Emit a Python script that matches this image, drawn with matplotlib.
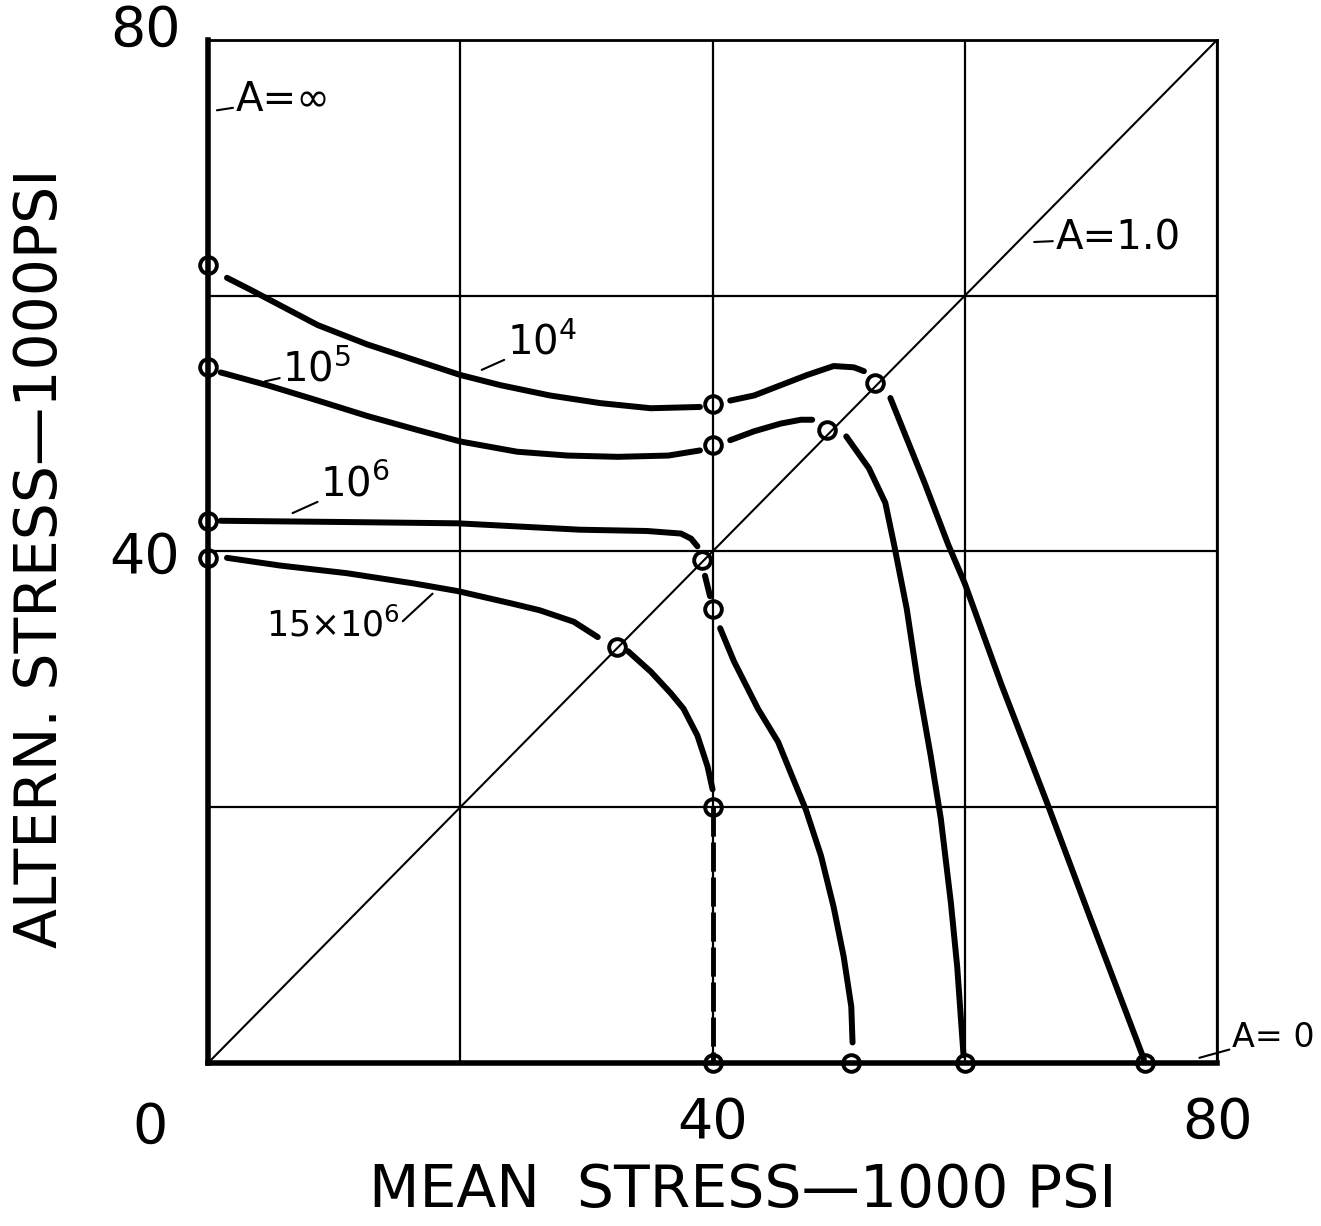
import matplotlib
matplotlib.use("Agg")
import matplotlib.pyplot as plt
from matplotlib.transforms import ScaledTranslation

plt.rcParams['font.family'] = ['DejaVu Sans']
plt.rcParams['mathtext.default'] = 'regular'

# curves (mean stress, alternating stress), 1000 psi
# N = 10^4
x_1e4 = [1.5, 3.3, 6.0, 8.7, 12.6, 16.6, 20.0, 23.2, 27.1, 31.1, 35.1, 39.0]
y_1e4 = [61.4, 60.5, 59.1, 57.7, 56.2, 54.9, 53.8, 53.0, 52.2, 51.6, 51.2, 51.3]
x_1e4b = [41.4, 43.3, 45.4, 47.5, 49.6, 51.2, 52.0]
y_1e4b = [51.8, 52.2, 53.0, 53.8, 54.5, 54.4, 54.1]
x_1e4c = [54.1, 56.8, 58.7, 60.0, 62.9, 66.5, 70.0, 74.2]
y_1e4c = [52.0, 45.4, 40.5, 37.5, 29.6, 20.4, 11.2, 0.3]
pts_1e4_x = [0, 40, 52.9, 74.3]
pts_1e4_y = [62.4, 51.5, 53.2, 0]

# N = 10^5
x_1e5 = [1.0, 4.7, 8.7, 12.6, 16.6, 20.0, 24.5, 28.5, 32.5, 36.5, 39.0]
y_1e5 = [54.0, 53.0, 51.8, 50.6, 49.5, 48.6, 47.8, 47.5, 47.4, 47.5, 47.9]
x_1e5b = [41.4, 43.3, 45.4, 47.0, 47.9]
y_1e5b = [48.7, 49.4, 50.0, 50.3, 50.3]
x_1e5c = [50.6, 52.4, 53.7, 54.4, 55.4, 56.3, 57.3, 58.1, 58.9, 59.4, 59.9]
y_1e5c = [49.0, 46.5, 43.8, 40.5, 35.5, 29.6, 24.0, 19.1, 12.5, 7.5, 0.6]
pts_1e5_x = [0, 40, 49.1, 60]
pts_1e5_y = [54.4, 48.3, 49.5, 0]

# N = 10^6
x_1e6 = [1.0, 11.0, 19.8, 29.5, 34.8, 37.5, 38.3, 38.8]
y_1e6 = [42.4, 42.3, 42.2, 41.7, 41.6, 41.4, 41.0, 40.4]
x_1e6b = [39.4, 39.8]
y_1e6b = [38.1, 36.5]
x_1e6c = [40.6, 41.7, 43.6, 45.2, 46.4, 47.4, 48.6, 49.6, 50.4, 51.0, 51.1]
y_1e6c = [34.0, 31.4, 27.7, 25.1, 22.2, 19.8, 16.2, 12.2, 8.3, 4.4, 1.6]
pts_1e6_x = [0, 39.2, 40, 51]
pts_1e6_y = [42.4, 39.3, 35.5, 0]

# N = 15x10^6
x_15e6 = [1.5, 5.7, 11.0, 16.3, 19.8, 24.2, 26.3, 29.0, 30.9]
y_15e6 = [39.5, 38.9, 38.3, 37.5, 36.9, 35.9, 35.4, 34.5, 33.3]
x_15e6b = [33.3, 35.1, 36.7, 37.7, 38.8, 39.6, 40.0]
y_15e6b = [32.2, 30.6, 28.9, 27.7, 25.6, 23.2, 21.4]
x_15e6d = [40, 40]
y_15e6d = [20, 0]
pts_15e6_x = [0, 32.4, 40, 40]
pts_15e6_y = [39.5, 32.5, 20, 0]

fig = plt.figure(figsize=(13.21, 12.26), dpi=100)
ax = fig.add_axes([0.1575, 0.1330, 0.7638, 0.8344])
ax.set_xlim(0, 80)
ax.set_ylim(0, 80)

ax.set_xticks([0, 20, 40, 60, 80])
ax.set_xticklabels(['', '', '40', '', '80'])
ax.set_yticks([0, 20, 40, 60, 80])
ax.set_yticklabels(['', '', '40', '', '80'])
ax.tick_params(length=0, labelsize=40, pad=24)
ax.tick_params(axis='y', pad=20)
# the top "80" sits a little higher in the drawing
top_lab = ax.get_yticklabels()[-1]
top_lab.set_transform(top_lab.get_transform() +
                      ScaledTranslation(0, 0.15, fig.dpi_scale_trans))
ax.grid(True, color='black', lw=1.6)
ax.set_axisbelow(True)
for s in ['top', 'right']:
    ax.spines[s].set_linewidth(2)
for s in ['left', 'bottom']:
    ax.spines[s].set_linewidth(4)

# A = 1.0 line
ax.plot([0, 80], [0, 80], color='black', lw=1.5)

cw = 4.3
for xs, ys in [(x_1e4, y_1e4), (x_1e4b, y_1e4b), (x_1e4c, y_1e4c),
               (x_1e5, y_1e5), (x_1e5b, y_1e5b), (x_1e5c, y_1e5c),
               (x_1e6, y_1e6), (x_1e6b, y_1e6b), (x_1e6c, y_1e6c),
               (x_15e6, y_15e6), (x_15e6b, y_15e6b)]:
    ax.plot(xs, ys, color='black', lw=cw, solid_capstyle='round',
            solid_joinstyle='round')
ax.plot(x_15e6d, y_15e6d, color='black', lw=3.5, linestyle=(0, (6, 1.2)))

for px, py in [(pts_1e4_x, pts_1e4_y), (pts_1e5_x, pts_1e5_y),
               (pts_1e6_x, pts_1e6_y), (pts_15e6_x, pts_15e6_y)]:
    ax.plot(px, py, 'o', ms=12, mfc='none', mec='black', mew=2.8,
            clip_on=False, zorder=5)

lead = dict(arrowstyle='-', color='black', lw=1.5, shrinkA=0, shrinkB=0)
lab = dict(fontsize=29, va='center', ha='left', arrowprops=lead)
ax.annotate('A=∞', xy=(0.7, 74.5), xytext=(2.2, 75.3), **lab)
ax.annotate('A=1.0', xy=(65.5, 64.2), xytext=(67.2, 64.5), **lab)
ax.annotate('A= 0', xy=(78.6, 0.4), xytext=(81.2, 2.0), fontsize=24,
            va='center', ha='left', arrowprops=lead, annotation_clip=False)
ax.annotate(r'$10^4$', xy=(21.7, 54.2), xytext=(23.7, 56.3), **lab)
ax.annotate(r'$10^5$', xy=(4.5, 53.3), xytext=(5.9, 54.2), **lab)
ax.annotate(r'$10^6$', xy=(6.7, 43.0), xytext=(8.9, 45.2), **lab)
ax.annotate(r'$15{\times}10^6$', xy=(17.8, 36.7), xytext=(4.6, 34.2),
            fontsize=25, va='center', ha='left',
            arrowprops=dict(lead, relpos=(1.0, 0.55)))

ax.text(-4.6, -5.1, '0', fontsize=40, ha='center', va='center')
fig.text(0.5625, 0.029, 'MEAN  STRESS\u20141000 PSI', fontsize=42,
         ha='center', va='center')
fig.text(0.031, 0.545, 'ALTERN. STRESS\u20141000PSI', fontsize=42,
         ha='center', va='center', rotation=90)

fig.savefig('out.png', dpi=100)
